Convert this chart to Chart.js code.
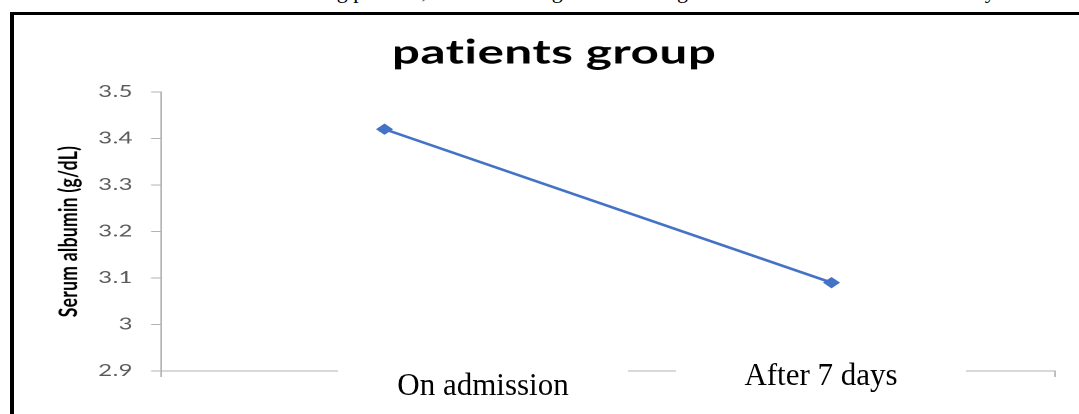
<!DOCTYPE html>
<html>
<head>
<meta charset="utf-8">
<script src="https://cdn.jsdelivr.net/npm/chart.js@4/dist/chart.umd.min.js"></script>
<style>
  html, body { margin: 0; padding: 0; background: #fff; }
  body { width: 1079px; height: 414px; overflow: hidden; position: relative; }
  /* chart drawn narrow, then widened horizontally like the embedded figure */
  #wrap { position: absolute; left: 0; top: 0; width: 720px; height: 414px;
          transform: scaleX(1.49861); transform-origin: 0 0; }
  #doc { position: absolute; left: -8px; top: -20px; white-space: nowrap;
         font: 22px/22px "Liberation Serif", "Times New Roman", serif; color: #000; }
  #frame { position: absolute; left: 10px; top: 12px; width: 1080px; height: 410px;
           border-top: 3px solid #000; border-left: 4px solid #000; pointer-events: none; }
  .cat { position: absolute; background: #fff; text-align: center; color: #000;
         font: 31px/31px "Liberation Serif", "Times New Roman", serif; white-space: nowrap; }
</style>
</head>
<body>
<div id="doc">Table 3 and the chart below. Concerning patients, there was a significant change in serum albumin after seven days.</div>
<div id="wrap"><canvas id="c"></canvas></div>
<div id="frame"></div>
<div class="cat" id="cat0" style="left:338px; top:364px; width:290px; height:40px; padding-top:5px; box-sizing:border-box;"></div>
<div class="cat" id="cat1" style="left:676px; top:354px; width:290px; height:40px; padding-top:5px; box-sizing:border-box;"></div>
<script>
// Serum albumin, patients group
const categories = ['On admission', 'After 7 days'];
const albumin = [3.42, 3.09];
const yTickLabels = ['2.9', '3', '3.1', '3.2', '3.3', '3.4', '3.5'];
const chartTitle = 'patients group';
const yAxisTitle = 'Serum albumin (g/dL)';

document.getElementById('cat0').textContent = categories[0];
document.getElementById('cat1').textContent = categories[1];

const SX = 1079 / 720;           // horizontal widening of the figure
const AXIS = '#b3b3b3';
const PAD_LEFT = 35.5;

// a touch of letter spacing keeps canvas text free of ligatures
const spacing = {
  id: 'spacing',
  beforeDraw(chart) { chart.ctx.letterSpacing = '0.3px'; }
};

new Chart(document.getElementById('c'), {
  type: 'line',
  plugins: [spacing],
  data: {
    labels: categories,
    datasets: [{
      data: albumin,
      borderColor: '#4472C4',
      backgroundColor: '#4472C4',
      borderWidth: 2.5,
      tension: 0,
      pointStyle: 'rectRot',
      pointRadius: 5,
      pointBorderWidth: 1,
      pointBackgroundColor: '#4472C4',
      pointBorderColor: '#4472C4'
    }]
  },
  options: {
    responsive: true,
    maintainAspectRatio: false,
    devicePixelRatio: 2,
    animation: false,
    layout: { padding: { left: PAD_LEFT, right: 720 - 1055 / SX, top: 0, bottom: 0 } },
    plugins: {
      legend: { display: false },
      tooltip: { enabled: false },
      title: {
        display: true,
        text: chartTitle,
        color: '#000',
        align: 'center',
        font: { family: 'Lato', weight: 'bold', size: 33, lineHeight: 1.2 },
        padding: { top: 33, bottom: 92 - 33 - 39.6 }
      }
    },
    scales: {
      x: {
        type: 'category',
        offset: true,
        grid: { offset: true, drawOnChartArea: false, drawTicks: true, tickLength: 6, color: AXIS, lineWidth: 1 },
        border: { display: true, color: AXIS, width: 1 },
        ticks: { display: false },
        afterFit: (s) => { s.height = 414 - 371; }
      },
      y: {
        min: 2.9,
        max: 3.5,
        grid: { drawOnChartArea: false, drawTicks: true, tickLength: 10 / SX, color: AXIS, lineWidth: 1 },
        border: { display: true, color: AXIS, width: 1 },
        ticks: {
          stepSize: 0.1,
          padding: 12,
          color: '#595959',
          font: { family: 'Lato', size: 16 },
          callback: (v, i) => yTickLabels[i]
        },
        title: {
          display: true,
          text: yAxisTitle,
          color: '#000',
          font: { family: 'Lato', weight: 'bold', size: 17.5, lineHeight: 1.2 },
          padding: { top: 0, bottom: 0 }
        },
        afterFit: (s) => { s.width = 161 / SX - PAD_LEFT; }
      }
    }
  }
});
</script>
</body>
</html>
